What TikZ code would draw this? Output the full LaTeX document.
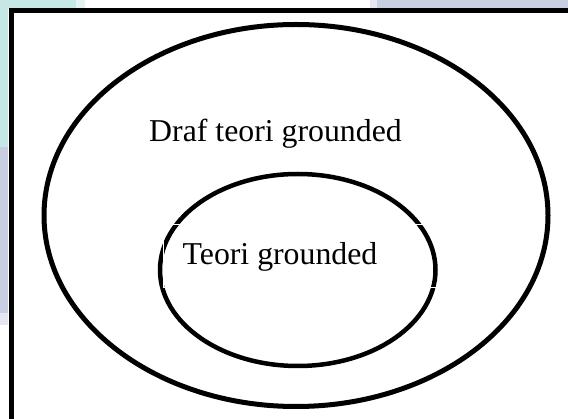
\documentclass[tikz,border=0pt]{standalone}
\usepackage{fontspec}
\setmainfont{Liberation Serif}
\usetikzlibrary{shapes.geometric}
\definecolor{tealbg}{RGB}{197,232,230}
\definecolor{tealpale}{RGB}{226,243,242}
\definecolor{lavbg}{RGB}{200,207,227}
\definecolor{lavpale}{RGB}{228,231,241}
\tikzset{
  ring/.style={draw=black, ellipse, inner sep=0pt, outer sep=0pt},
  label text/.style={font=\fontsize{31.8}{38}\selectfont, inner sep=0pt, anchor=base}
}
\begin{document}
\begin{tikzpicture}[x=1pt,y=-1pt]
\useasboundingbox (0,0) rectangle (568,419);
\clip (0,0) rectangle (568,419);
% background
\fill[white] (0,0) rectangle (568,419);
\fill[tealbg] (0,0) rectangle (76,9);
\fill[tealpale] (76,0) rectangle (85,9);
\fill[tealbg] (0,0) rectangle (8,147);
\fill[lavbg] (0,147) rectangle (8,313);
\fill[lavpale] (0,313) rectangle (8,325);
\fill[lavpale] (370,0) rectangle (377,9);
\fill[lavbg] (377,0) rectangle (568,9);
% frame
\draw[line width=5, fill=white] (11.5,10.5) rectangle (600,450);
% ellipses
\node[ring, line width=5, minimum width=504, minimum height=382] (outer) at (296,215.5) {};
\node[ring, line width=4.5, minimum width=275.5, minimum height=192] (inner) at (297.75,270) {};
% text box outline (white) over the inner ring
\node[draw=white, line width=1, minimum width=276.5, minimum height=62.5, inner sep=0pt, anchor=north west] (box) at (163,224.5) {};
% labels
\node[label text] (draft) at (275.5,142) {Draf teori grounded};
\node[label text] (theory) at (280,265) {Teori grounded};
\end{tikzpicture}
\end{document}
